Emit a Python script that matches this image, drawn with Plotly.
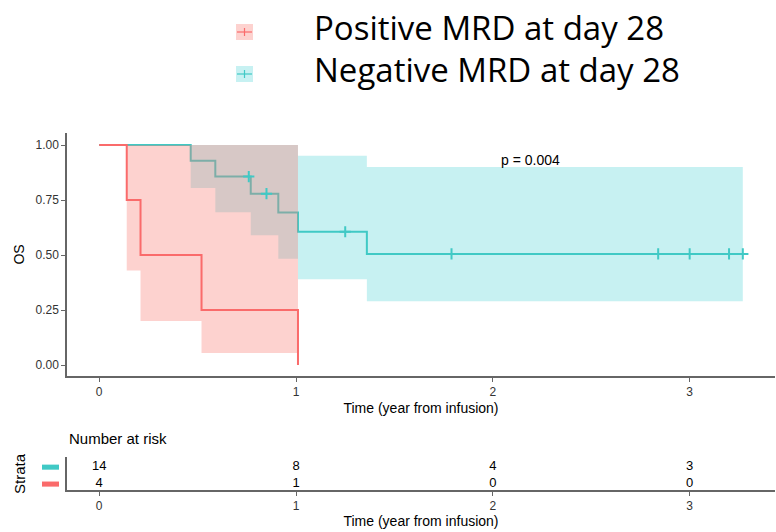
import plotly.graph_objects as go

# ---------------- data ----------------
pos_t = [0, 0.14, 0.21, 0.52, 1.01]
pos_s = [1.0, 0.75, 0.50, 0.25, 0.0]
pos_up = [1.0, 1.0, 1.0, 1.0, 1.0]
pos_lo = [1.0, 0.43, 0.20, 0.055, 0.055]

neg_t = [0, 0.465, 0.59, 0.77, 0.91, 1.01, 1.36, 3.27]
neg_s = [1.0, 0.929, 0.857, 0.779, 0.693, 0.606, 0.505, 0.505]
neg_up = [1.0, 1.0, 1.0, 1.0, 1.0, 0.951, 0.90, 0.90]
neg_lo = [1.0, 0.805, 0.695, 0.59, 0.483, 0.39, 0.29, 0.29]

neg_cens_t = [0.76, 0.85, 1.25, 1.79, 2.84, 3.0, 3.2, 3.27]
neg_cens_s = [0.857, 0.779, 0.606, 0.505, 0.505, 0.505, 0.505, 0.505]

risk_times = [0, 1, 2, 3]
risk_neg = [14, 8, 4, 3]
risk_pos = [4, 1, 0, 0]
risk_rows = [1, 2]  # row index of positive / negative stratum

x_ticks = [0, 1, 2, 3]
y_ticks = [0, 0.25, 0.5, 0.75, 1.0]
y_ticklabels = ["0.00", "0.25", "0.50", "0.75", "1.00"]

legend_labels = ["Positive MRD at day 28", "Negative MRD at day 28"]
p_text = "p = 0.004"

RED = "#FA6B6B"
TEAL = "#40C9C5"
RED_FILL = "rgba(248,118,109,0.33)"
TEAL_FILL = "rgba(0,191,196,0.22)"

fig = go.Figure()

# teal ribbon + line
fig.add_trace(go.Scatter(x=neg_t, y=neg_lo, mode="lines", line=dict(width=0, shape="hv"),
                         showlegend=False, hoverinfo="skip"))
fig.add_trace(go.Scatter(x=neg_t, y=neg_up, mode="lines", line=dict(width=0, shape="hv"),
                         fill="tonexty", fillcolor=TEAL_FILL, showlegend=False, hoverinfo="skip"))
fig.add_trace(go.Scatter(x=neg_t, y=neg_s, mode="lines", line=dict(color=TEAL, width=2, shape="hv"),
                         showlegend=False))
# red ribbon + line
fig.add_trace(go.Scatter(x=pos_t, y=pos_lo, mode="lines", line=dict(width=0, shape="hv"),
                         showlegend=False, hoverinfo="skip"))
fig.add_trace(go.Scatter(x=pos_t, y=pos_up, mode="lines", line=dict(width=0, shape="hv"),
                         fill="tonexty", fillcolor=RED_FILL, showlegend=False, hoverinfo="skip"))
fig.add_trace(go.Scatter(x=pos_t, y=pos_s, mode="lines", line=dict(color=RED, width=2, shape="hv"),
                         showlegend=False))
# censor marks
fig.add_trace(go.Scatter(x=neg_cens_t, y=neg_cens_s, mode="markers",
                         marker=dict(symbol="cross-thin", size=8, line=dict(color=TEAL, width=2)),
                         showlegend=False))

# p-value
fig.add_annotation(x=2.19, y=0.93, xref="x", yref="y", text=p_text, showarrow=False,
                   font=dict(size=14, color="black", family="Liberation Sans"))

# risk table
fig.add_trace(go.Scatter(x=risk_times, y=[risk_rows[1]] * len(risk_times), mode="text",
                         text=[str(v) for v in risk_neg], xaxis="x2", yaxis="y2",
                         textfont=dict(size=13, color="black", family="Liberation Sans"),
                         showlegend=False))
fig.add_trace(go.Scatter(x=risk_times, y=[risk_rows[0]] * len(risk_times), mode="text",
                         text=[str(v) for v in risk_pos], xaxis="x2", yaxis="y2",
                         textfont=dict(size=13, color="black", family="Liberation Sans"),
                         showlegend=False))

W, H = 776, 532
def px(x):
    return x / W
def py(y):
    return 1 - y / H

axis_common = dict(showline=True, linecolor="#666666", linewidth=1.5, ticks="outside",
                   ticklen=4, tickcolor="#666666", showgrid=False, zeroline=False,
                   tickfont=dict(size=12, color="#333333", family="Liberation Sans"))

fig.update_layout(
    width=W, height=H, margin=dict(l=0, r=0, t=0, b=0),
    paper_bgcolor="white", plot_bgcolor="white",
    font=dict(family="Liberation Sans"),
    xaxis=dict(domain=[px(67), px(775)], range=[-0.1635, 3.4335], tickvals=x_ticks,
               anchor="y",
               title=dict(text="Time (year from infusion)", standoff=5,
                          font=dict(size=14, color="black")), **axis_common),
    yaxis=dict(domain=[py(376), py(133)], range=[-0.05, 1.055], tickvals=y_ticks,
               ticktext=y_ticklabels, anchor="x",
               title=dict(text="OS", standoff=8, font=dict(size=14, color="black")), **axis_common),
    xaxis2=dict(domain=[px(67), px(775)], range=[-0.1635, 3.4335], tickvals=x_ticks,
                anchor="y2",
                title=dict(text="Time (year from infusion)", standoff=3,
                           font=dict(size=14, color="black")), **axis_common),
    yaxis2=dict(domain=[py(490), py(457)], range=[0.65, 2.6], tickvals=risk_rows,
                showticklabels=False, anchor="x2",
                **{**axis_common, "ticks": ""}),
)

# strata colour keys beside the risk table rows
for row, col in zip(risk_rows, [RED, TEAL]):
    fig.add_shape(type="rect", xref="paper", yref="y2", x0=px(42), x1=px(59),
                  y0=row - 0.15, y1=row + 0.15, fillcolor=col, line=dict(width=0))

fig.add_annotation(x=px(19), y=py(474), xref="paper", yref="paper", text="Strata",
                   showarrow=False, textangle=-90, xanchor="center", yanchor="middle",
                   font=dict(size=15, color="black", family="Liberation Sans"))

fig.add_annotation(x=px(67), y=py(438), xref="paper", yref="paper", text="Number at risk",
                   showarrow=False, xanchor="left", yanchor="middle",
                   font=dict(size=15, color="black", family="Liberation Sans"))

# top legend (drawn as keys + text)
for i, (lab, col, fill) in enumerate(zip(legend_labels, [RED, TEAL], [RED_FILL, TEAL_FILL])):
    cy = 32 + i * 42
    fig.add_shape(type="rect", xref="paper", yref="paper", x0=px(236), x1=px(253),
                  y0=py(cy + 8), y1=py(cy - 8), fillcolor=fill, line=dict(width=0))
    fig.add_shape(type="line", xref="paper", yref="paper", x0=px(237), x1=px(252),
                  y0=py(cy), y1=py(cy), line=dict(color=col, width=1.2))
    fig.add_shape(type="line", xref="paper", yref="paper", x0=px(244.5), x1=px(244.5),
                  y0=py(cy - 4), y1=py(cy + 4), line=dict(color=col, width=1.2))
    fig.add_annotation(x=px(312), y=py(cy - 4), xref="paper", yref="paper", text=lab,
                       showarrow=False, xanchor="left", yanchor="middle",
                       font=dict(size=33, color="black", family="Open Sans"))

fig.write_html("out.html", post_script="document.body.style.margin='0';",
               config={"displayModeBar": False})
